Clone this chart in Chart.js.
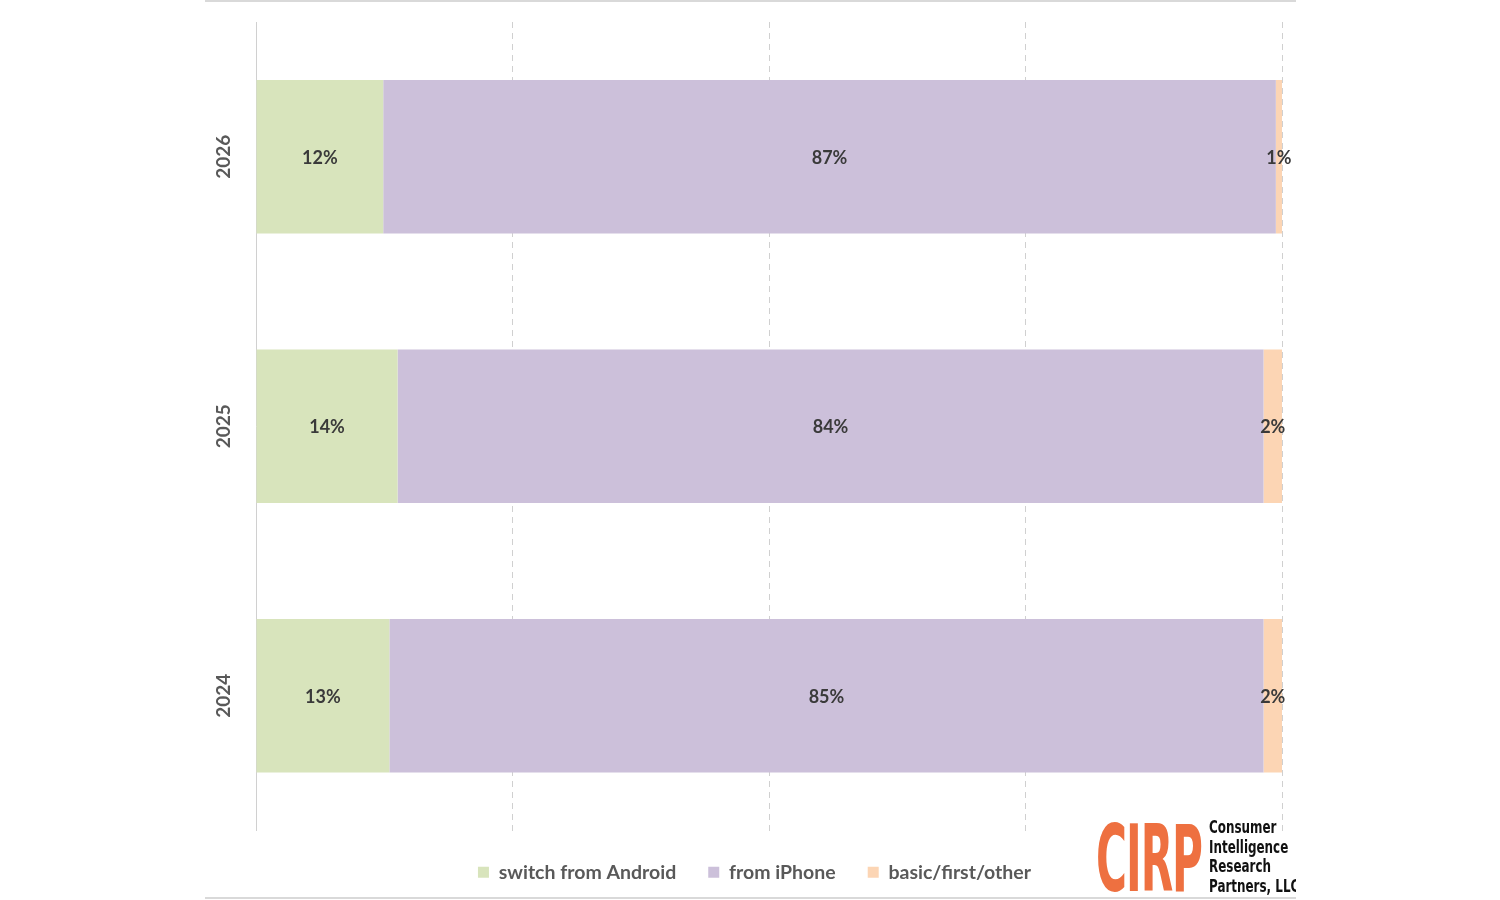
<!DOCTYPE html>
<html>
<head>
<meta charset="utf-8">
<script src="https://cdn.jsdelivr.net/npm/chart.js@4.4.1/dist/chart.umd.min.js"></script>
<style>
  html, body { margin: 0; padding: 0; background: #fff; }
  #wrap { position: relative; width: 1500px; height: 900px; }
  #logo { position: absolute; left: 1090px; top: 812px; width: 206px; height: 86px; overflow: hidden; }
  #logo .big { position: absolute; left: 6px; top: -6px; font: bold 92px "DejaVu Sans Condensed", sans-serif;
    color: #EE7040; transform: scaleX(0.51); transform-origin: left top; letter-spacing: -2px; }
  #logo .small { position: absolute; left: 119px; top: 6px; font: bold 17px/19.5px "DejaVu Sans Condensed", sans-serif;
    color: #111; white-space: nowrap; transform: scaleX(0.78); transform-origin: left top; }
</style>
</head>
<body>
<div id="wrap">
  <canvas id="chart" width="1500" height="900"></canvas>
  <div id="logo">
    <div class="big">CIRP</div>
    <div class="small">Consumer<br>Intelligence<br>Research<br>Partners, LLC</div>
  </div>
</div>
<script>
const years = ["2026", "2025", "2024"];
const seriesNames = ["switch from Android", "from iPhone", "basic/first/other"];
const androidShare = [12.4, 13.8, 13.0];
const iphoneShare = [87.0, 84.4, 85.2];
const otherShare = [0.6, 1.8, 1.8];
const xTicks = [0, 25, 50, 75, 100];

const colors = ["#D8E4BC", "#CCC0DA", "#FCD5B4"];
const FONT = "Lato, 'Open Sans', sans-serif";

// value labels in the middle of each segment
const segmentLabels = {
  id: "segmentLabels",
  afterDatasetsDraw(chart) {
    const ctx = chart.ctx;
    ctx.save();
    ctx.font = "bold 18px " + FONT;
    ctx.fillStyle = "#3a3a3a";
    ctx.textAlign = "center";
    ctx.textBaseline = "middle";
    chart.data.datasets.forEach((ds, i) => {
      chart.getDatasetMeta(i).data.forEach((bar, j) => {
        const x = (bar.x + bar.base) / 2;
        ctx.fillText(Math.round(ds.data[j]) + "%", x, bar.y + 1);
      });
    });
    ctx.restore();
  }
};

// rotated year labels left of the axis (ticks hidden so they don't push the layout)
const yearLabels = {
  id: "yearLabels",
  afterDraw(chart) {
    const ctx = chart.ctx;
    const y = chart.scales.y;
    ctx.save();
    ctx.font = "bold 19px " + FONT;
    ctx.fillStyle = "#595959";
    ctx.textAlign = "center";
    ctx.textBaseline = "middle";
    y.getLabels().forEach((lab, i) => {
      ctx.save();
      ctx.translate(chart.chartArea.left - 32, y.getPixelForTick(i));
      ctx.rotate(-Math.PI / 2);
      ctx.fillText(lab, 0, 0);
      ctx.restore();
    });
    ctx.restore();
  }
};

// thin grey rules above and below the chart
const frameLines = {
  id: "frameLines",
  beforeDraw(chart) {
    const ctx = chart.ctx;
    ctx.save();
    ctx.strokeStyle = "#d9d9d9";
    ctx.lineWidth = 2;
    ctx.beginPath();
    ctx.moveTo(205, 1); ctx.lineTo(1296, 1);
    ctx.moveTo(205, 898); ctx.lineTo(1296, 898);
    ctx.stroke();
    ctx.restore();
  }
};

new Chart(document.getElementById("chart"), {
  type: "bar",
  data: {
    labels: years,
    datasets: [
      { label: seriesNames[0], data: androidShare, backgroundColor: colors[0] },
      { label: seriesNames[1], data: iphoneShare, backgroundColor: colors[1] },
      { label: seriesNames[2], data: otherShare, backgroundColor: colors[2] }
    ]
  },
  options: {
    indexAxis: "y",
    responsive: false,
    animation: false,
    categoryPercentage: 1,
    barPercentage: 0.57,
    layout: { padding: { left: 227, right: 218, top: 22, bottom: 8 } },
    plugins: {
      legend: {
        position: "bottom",
        labels: {
          boxWidth: 11, boxHeight: 11, padding: 32,
          color: "#595959",
          font: { family: FONT, size: 19.5, weight: "bold" }
        }
      },
      tooltip: { enabled: false }
    },
    scales: {
      x: {
        stacked: true,
        min: 0, max: 100,
        afterBuildTicks: s => { s.ticks = xTicks.map(v => ({ value: v })); },
        ticks: { display: false },
        grid: { color: "#d0d0d0", drawTicks: false, tickLength: 0 },
        border: { display: false, dash: [6, 5] }
      },
      y: {
        stacked: true,
        afterFit: s => { s.width = 29; },
        ticks: { display: false },
        grid: { display: false, drawTicks: false },
        border: { color: "#d0d0d0", width: 1 }
      }
    }
  },
  plugins: [segmentLabels, yearLabels, frameLines]
});
</script>
</body>
</html>
